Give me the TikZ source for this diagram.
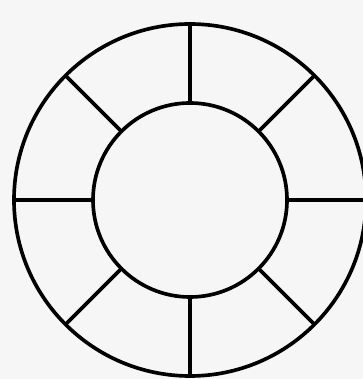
\documentclass[tikz,border=0pt]{standalone}
\usepackage{tikz}
\usetikzlibrary{calc}
\definecolor{paper}{RGB}{246,246,246}

\begin{document}
\begin{tikzpicture}[
    ring/.style={circle, draw, line width=2.6pt, inner sep=0pt, outer sep=0pt},
    spoke/.style={line width=2.6pt}
]
    \fill[paper] (0,0) rectangle (9.075,9.475);
    \useasboundingbox (0,0) rectangle (9.075,9.475);
    \clip (0,0) rectangle (9.075,9.475);
    \node[ring, minimum size=8.8cm] (outer) at (4.75,4.475) {};
    \node[ring, minimum size=4.85cm] (inner) at (4.75,4.475) {};
    \foreach \a in {0,45,...,315}
        \draw[spoke] (inner.\a) -- (outer.\a);
\end{tikzpicture}
\end{document}
